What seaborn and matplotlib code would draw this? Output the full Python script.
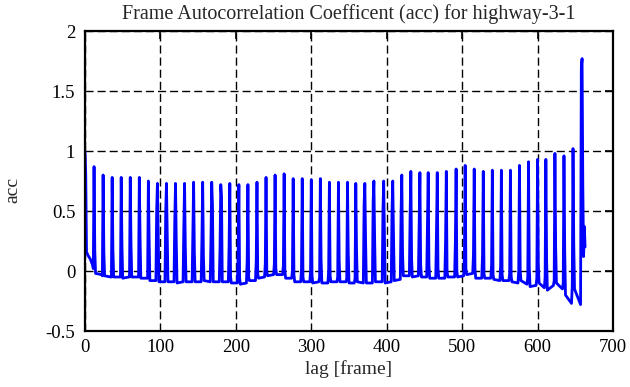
import matplotlib
matplotlib.use("Agg")
import matplotlib.pyplot as plt
import seaborn as sns
import pandas as pd

# lags of the periodic peaks and their acc values
spike_lag = [12, 24, 36, 48, 60, 72, 84, 96, 108, 120, 132, 144, 156, 168, 180, 192, 204, 216,
             228, 240, 252, 264, 276, 288, 300, 312, 324, 336, 348, 359, 371, 383, 396, 408,
             420, 432, 444, 455, 467, 479, 492, 504, 516, 528, 540, 552, 564, 576, 588, 600,
             611, 623, 635, 647, 659]
spike_acc = [0.87, 0.80, 0.78, 0.78, 0.78, 0.78, 0.75, 0.73, 0.73, 0.73, 0.73, 0.74, 0.74, 0.74,
             0.72, 0.73, 0.72, 0.72, 0.74, 0.78, 0.80, 0.81, 0.77, 0.77, 0.76, 0.77, 0.74, 0.74,
             0.74, 0.73, 0.73, 0.75, 0.75, 0.75, 0.80, 0.83, 0.82, 0.82, 0.82, 0.83, 0.85, 0.88,
             0.85, 0.83, 0.84, 0.84, 0.84, 0.88, 0.91, 0.93, 0.93, 0.98, 0.96, 1.02, 1.77]
# value one frame before / after each peak
pre_acc = [0.02, -0.04, -0.05, -0.05, -0.05, -0.05, -0.06, 0.50, 0.49, 0.42, 0.36, 0.34, 0.27,
           0.27, 0.20, 0.20, 0.14, 0.09, 0.08, 0.06, 0.06, 0.05, 0.00, 0.02, 0.00, -0.05, 0.00,
           -0.05, -0.06, -0.06, 0.55, 0.58, 0.50, 0.50, 0.48, 0.47, 0.42, 0.37, 0.34, 0.25, 0.24,
           0.14, 0.14, 0.13, 0.05, 0.04, -0.02, 0.00, -0.05, -0.06, -0.05, -0.08, -0.10, -0.12, 1.70]
post_acc = [0.17, 0.16, 0.18, 0.22, 0.22, 0.29, 0.28, 0.30, 0.33, 0.25, 0.20, 0.15, 0.12, 0.55,
            0.62, -0.05, -0.06, -0.05, -0.02, 0.00, 0.02, 0.00, -0.03, -0.05, -0.04, 0.10, -0.04,
            0.09, 0.16, 0.18, 0.25, 0.27, 0.29, 0.30, 0.15, 0.10, 0.05, 0.05, 0.02, 0.00, 0.00,
            0.02, 0.02, -0.02, -0.03, -0.03, -0.04, 0.00, 0.03, 0.05, 0.09, 0.20, 0.17, 0.22, 0.70]
# baseline two frames before / after each peak
before_acc = [0.05, -0.03, -0.05, -0.05, -0.05, -0.05, -0.06, -0.08, -0.09, -0.09, -0.09, -0.09,
              -0.09, -0.09, -0.09, -0.09, -0.10, -0.10, -0.08, -0.05, -0.03, -0.03, -0.06, -0.09,
              -0.09, -0.09, -0.10, -0.09, -0.09, -0.10, -0.10, -0.10, -0.09, -0.09, -0.07, -0.04,
              -0.04, -0.05, -0.06, -0.06, -0.05, -0.04, -0.02, -0.06, -0.06, -0.08, -0.08, -0.10,
              -0.11, -0.12, -0.14, -0.12, -0.15, -0.27, -0.28]
after_acc = [-0.02, -0.04, -0.05, -0.06, -0.05, -0.06, -0.08, -0.09, -0.09, -0.10, -0.09, -0.09,
             -0.08, -0.09, -0.09, -0.10, -0.11, -0.08, -0.06, -0.04, -0.03, -0.06, -0.09, -0.09,
             -0.10, -0.10, -0.09, -0.09, -0.10, -0.09, -0.10, -0.09, -0.10, -0.08, -0.04, -0.05,
             -0.05, -0.06, -0.06, -0.05, -0.05, -0.03, -0.06, -0.06, -0.07, -0.08, -0.09, -0.08,
             -0.13, -0.10, -0.16, -0.10, -0.20, -0.15, 0.12]
# start and end of the curve
head_lag = [0, 1, 2, 4, 7]
head_acc = [1.00, 0.80, 0.16, 0.13, 0.10]
tail_lag = [662, 663]
tail_acc = [0.37, 0.20]

lags = list(head_lag)
accs = list(head_acc)
for i in range(len(spike_lag)):
    L = spike_lag[i]
    lags += [L - 2, L - 1, L, L + 1, L + 2]
    accs += [before_acc[i], pre_acc[i], spike_acc[i], post_acc[i], after_acc[i]]
lags += tail_lag
accs += tail_acc
df = pd.DataFrame({'lag': lags, 'acc': accs})

sns.set_style("white")
plt.rcParams['font.family'] = ['Liberation Serif', 'DejaVu Serif']

fig, ax = plt.subplots(figsize=(6.3, 3.87), dpi=100)
fig.subplots_adjust(left=85/630, right=613/630, top=1-31/387, bottom=1-331/387)

sns.lineplot(data=df, x='lag', y='acc', color='#0000ff', linewidth=2.0,
             estimator=None, sort=True, ax=ax)

ax.set_xlim(0, 700)
ax.set_ylim(-0.5, 2)
ax.set_xticks(range(0, 701, 100))
ax.set_yticks([-0.5, 0, 0.5, 1, 1.5, 2])
ax.set_yticklabels(['-0.5', '0', '0.5', '1', '1.5', '2'])
ax.grid(True, color='black', linestyle=(0, (5.8, 2.9)), linewidth=1.0)
ax.tick_params(direction='in', top=True, right=True, length=6, width=1.2,
               labelsize=13.5, colors='black')
ax.tick_params(axis='x', pad=6)
ax.tick_params(axis='y', pad=7)
for s in ax.spines.values():
    s.set_color('black')
    s.set_linewidth(1.6)

ax.set_title('Frame Autocorrelation Coefficent (acc) for highway-3-1', fontsize=14.5, pad=9)
ax.set_xlabel('lag [frame]', fontsize=14, labelpad=3)
ax.set_ylabel('acc', fontsize=14, va='center')
ax.yaxis.set_label_coords(-0.137, 0.47)

plt.savefig('out.png', dpi=100)
